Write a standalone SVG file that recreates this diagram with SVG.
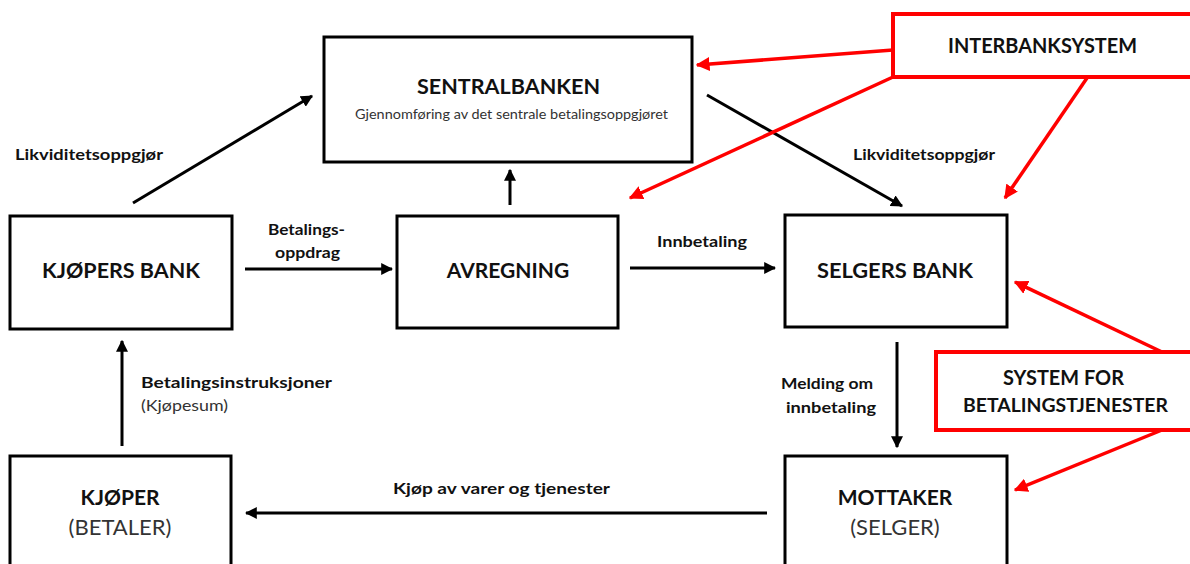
<svg xmlns="http://www.w3.org/2000/svg" width="1190" height="564" viewBox="0 0 1190 564">
  <defs>
    <marker id="ah" viewBox="0 0 10 10" refX="9" refY="5" markerWidth="4" markerHeight="4" orient="auto" markerUnits="strokeWidth">
      <path d="M0,0 L10,5 L0,10 Z" fill="#000"/>
    </marker>
    <marker id="ahr" viewBox="0 0 10 10" refX="9" refY="5" markerWidth="4" markerHeight="4" orient="auto" markerUnits="strokeWidth">
      <path d="M0,0 L10,5 L0,10 Z" fill="#ff0000"/>
    </marker>
    <style>
      .box { fill: #fff; stroke: #000; stroke-width: 3; }
      .rbox { fill: #fff; stroke: #ff0000; stroke-width: 4; }
      .t { font-family: Lato, "Open Sans", "Liberation Sans", sans-serif; fill: #111; }
      .big { font-size: 21px; font-weight: bold; }
      .mid { font-size: 19px; font-weight: bold; }
      .sub { font-size: 22px; fill: #333; }
      .small { font-size: 13px; fill: #333; }
      .lbl { font-size: 15px; font-weight: bold; }
      .lblr { font-size: 15px; fill: #333; }
      .c { text-anchor: middle; }
      .conn { stroke: #000; stroke-width: 3; fill: none; marker-end: url(#ah); }
      .rconn { stroke: #ff0000; stroke-width: 3.5; fill: none; }
      .rconn.a { marker-end: url(#ahr); }
    </style>
  </defs>

  <rect width="1190" height="564" fill="#fff"/>

  <!-- connectors -->
  <g id="connectors">
    <line class="conn" x1="133" y1="203" x2="312" y2="96"/>
    <line class="conn" x1="707" y1="95" x2="902" y2="206"/>
    <line class="conn" x1="510" y1="205" x2="510" y2="170"/>
    <line class="conn" x1="245" y1="269" x2="392" y2="269"/>
    <line class="conn" x1="630" y1="268" x2="775" y2="268"/>
    <line class="conn" x1="897" y1="342" x2="897" y2="447"/>
    <line class="conn" x1="122" y1="446" x2="122" y2="341"/>
    <line class="conn" x1="767" y1="513" x2="246" y2="513"/>

    <line class="rconn a" x1="893" y1="50" x2="697" y2="65"/>
    <line class="rconn a" x1="893" y1="77" x2="630" y2="198"/>
    <line class="rconn a" x1="1087" y1="78" x2="1005" y2="198"/>
    <line class="rconn a" x1="1162" y1="352" x2="1015" y2="282"/>
    <line class="rconn a" x1="1162" y1="430" x2="1015" y2="490"/>
  </g>

  <!-- edge labels -->
  <g id="labels">
    <text class="t lbl" x="15" y="160" textLength="148" lengthAdjust="spacingAndGlyphs">Likviditetsoppgjør</text>
    <text class="t lbl" x="853" y="160" textLength="142" lengthAdjust="spacingAndGlyphs">Likviditetsoppgjør</text>
    <text class="t lbl" x="268" y="235" textLength="77" lengthAdjust="spacingAndGlyphs">Betalings-</text>
    <text class="t lbl" x="275" y="258" textLength="65" lengthAdjust="spacingAndGlyphs">oppdrag</text>
    <text class="t lbl" x="657" y="247" textLength="90" lengthAdjust="spacingAndGlyphs">Innbetaling</text>
    <text class="t lbl" x="141" y="388" textLength="191" lengthAdjust="spacingAndGlyphs">Betalingsinstruksjoner</text>
    <text class="t lblr" x="141" y="411" textLength="87" lengthAdjust="spacingAndGlyphs">(Kjøpesum)</text>
    <text class="t lbl" x="781" y="389" textLength="92" lengthAdjust="spacingAndGlyphs">Melding om</text>
    <text class="t lbl" x="786" y="413" textLength="90" lengthAdjust="spacingAndGlyphs">innbetaling</text>
    <text class="t lbl" x="393" y="494" textLength="217" lengthAdjust="spacingAndGlyphs">Kjøp av varer og tjenester</text>
  </g>

  <g id="sentralbanken">
    <rect class="box" x="324" y="37" width="368" height="125"/>
    <text class="t big" x="417" y="94" textLength="183" lengthAdjust="spacingAndGlyphs">SENTRALBANKEN</text>
    <text class="t small" x="355" y="119" textLength="313" lengthAdjust="spacingAndGlyphs">Gjennomføring av det sentrale betalingsoppgjøret</text>
  </g>

  <g id="kjopers-bank">
    <rect class="box" x="10" y="216" width="222" height="113"/>
    <text class="t big" x="42" y="278" textLength="158" lengthAdjust="spacingAndGlyphs">KJØPERS BANK</text>
  </g>

  <g id="avregning">
    <rect class="box" x="397" y="216" width="221" height="112"/>
    <text class="t big c" x="508" y="278">AVREGNING</text>
  </g>

  <g id="selgers-bank">
    <rect class="box" x="785" y="215" width="222" height="112"/>
    <text class="t big" x="817" y="278" textLength="156" lengthAdjust="spacingAndGlyphs">SELGERS BANK</text>
  </g>

  <g id="kjoper">
    <rect class="box" x="10" y="456" width="221" height="120"/>
    <text class="t big c" x="120" y="505">KJØPER</text>
    <text class="t sub c" x="120" y="535">(BETALER)</text>
  </g>

  <g id="mottaker">
    <rect class="box" x="785" y="456" width="222" height="120"/>
    <text class="t big c" x="895" y="505">MOTTAKER</text>
    <text class="t sub c" x="895" y="535">(SELGER)</text>
  </g>

  <g id="interbanksystem">
    <rect class="rbox" x="893" y="14" width="310" height="63"/>
    <text class="t big" x="948" y="53" textLength="189" lengthAdjust="spacingAndGlyphs">INTERBANKSYSTEM</text>
  </g>

  <g id="system-for-betalingstjenester">
    <rect class="rbox" x="936" y="352" width="270" height="78"/>
    <text class="t big" x="1003" y="385" textLength="121" lengthAdjust="spacingAndGlyphs">SYSTEM FOR</text>
    <text class="t mid" x="963" y="412" textLength="205" lengthAdjust="spacingAndGlyphs">BETALINGSTJENESTER</text>
  </g>
</svg>
